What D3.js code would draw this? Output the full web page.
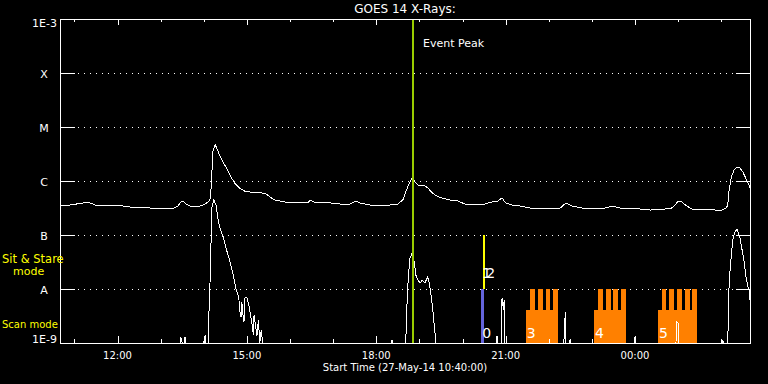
<!DOCTYPE html>
<meta charset="utf-8">
<style>
body{margin:0;background:#000;}
svg{display:block;}
text{font-family:'DejaVu Sans',sans-serif;fill:#fff;}
.yel{fill:#ffff00;}
</style>
<script src="https://d3js.org/d3.v7.min.js"></script>
<svg width="768" height="384"></svg>
<script>
// times are minutes after the start time 27-May-14 10:40:00, flux in W/m^2
var startTime = Date.UTC(2014, 4, 27, 10, 40);
var spanMinutes = 960;

var longChannel = [
  [0,3.44e-7],[14,3.59e-7],[32,3.92e-7],[42,3.92e-7],[49,3.59e-7],[70,3.44e-7],[79,3.59e-7],
  [97,3.30e-7],[111,3.30e-7],[125,3.16e-7],[139,3.16e-7],[146,3.16e-7],[156,3.03e-7],[164,3.44e-7],
  [168,4.08e-7],[171,4.26e-7],[175,3.75e-7],[181,3.44e-7],[188,3.44e-7],[195,3.44e-7],[202,3.75e-7],
  [206,4.08e-7],[209,4.64e-7],[210,6.8e-7],[213,3.75e-6],[216,4.64e-6],[218,4.08e-6],[223,2.78e-6],
  [230,1.90e-6],[237,1.24e-6],[243,9.2e-7],[250,7.4e-7],[257,6.5e-7],[264,6.25e-7],[275,6.25e-7],
  [281,6.0e-7],[287,5.74e-7],[292,5.06e-7],[299,4.45e-7],[306,4.26e-7],[320,3.92e-7],[334,3.92e-7],
  [345,3.92e-7],[348,4.45e-7],[353,4.08e-7],[362,3.92e-7],[376,3.92e-7],[390,3.75e-7],[404,3.75e-7],
  [412,4.26e-7],[417,3.92e-7],[431,3.59e-7],[445,3.59e-7],[459,3.59e-7],[470,3.75e-7],[477,4.45e-7],
  [481,6.25e-7],[486,9.2e-7],[490,1.14e-6],[495,9.2e-7],[499,8.1e-7],[506,8.4e-7],[512,7.4e-7],
  [518,6.0e-7],[524,5.3e-7],[531,4.85e-7],[543,4.45e-7],[554,4.26e-7],[563,3.75e-7],[577,3.59e-7],
  [591,3.75e-7],[601,4.08e-7],[609,4.26e-7],[615,4.85e-7],[620,3.92e-7],[629,3.59e-7],[640,3.44e-7],
  [654,3.16e-7],[675,3.16e-7],[696,3.16e-7],[704,3.92e-7],[712,3.44e-7],[726,3.16e-7],[744,3.16e-7],
  [758,3.16e-7],[769,3.44e-7],[779,3.16e-7],[793,3.16e-7],[807,3.03e-7],[821,2.90e-7],[842,3.03e-7],
  [851,3.16e-7],[856,3.59e-7],[860,4.26e-7],[865,4.08e-7],[872,3.44e-7],[879,3.03e-7],[897,3.03e-7],
  [911,2.90e-7],[921,2.90e-7],[927,3.16e-7],[929,3.59e-7],[931,6.8e-7],[934,1.19e-6],[938,1.60e-6],
  [942,1.82e-6],[946,1.74e-6],[950,1.47e-6],[954,1.14e-6],[959,8.1e-7],[960,7.4e-7]
];

var shortChannel = [
  [0,1e-9],[167,1e-9],[168,1.29e-9],[170,1e-9],[173,1e-9],[174,1.29e-9],[175,1e-9],
  [200,1e-9],[202,1.41e-9],[203,1e-9],[206,1e-9],[207,2.9e-9],[209,1.67e-8],[210,6e-8],
  [211,3.16e-7],[214,4.45e-7],[217,3.59e-7],[220,1.9e-7],[223,1.29e-7],[227,9.2e-8],[231,5.74e-8],
  [237,3.03e-8],[241,1.82e-8],[245,1.0e-8],[248,7.4e-9],[249,6.25e-9],[250,4.08e-9],[252,3.03e-9],
  [253,5.74e-9],[255,2.9e-9],[256,2.5e-9],[257,6.8e-9],[260,7.1e-9],[262,5.5e-9],[264,4.08e-9],
  [267,2.34e-9],[269,1.41e-9],[270,3.3e-9],[273,1.74e-9],[274,1.35e-9],[276,2.67e-9],[278,1e-9],
  [280,1.74e-9],[282,1e-9],[461,1e-9],[462,1.14e-9],[463,1e-9],[481,1e-9],[483,6.25e-9],
  [484,1.19e-8],[486,2.78e-8],[487,3.75e-8],[490,4.64e-8],[493,3.16e-8],[495,1.82e-8],[498,1.47e-8],
  [501,1.29e-8],[504,1.47e-8],[508,1.29e-8],[511,1.67e-8],[513,1.47e-8],[515,1e-8],[518,5.06e-9],
  [520,2.67e-9],[522,1.41e-9],[523,1e-9],[607,1e-9],[608,1.35e-9],[609,1e-9],[614,1e-9],
  [615,6.8e-9],[617,4.08e-9],[618,6.25e-9],[619,1e-9],[701,1e-9],[703,3.75e-9],[704,1e-9],
  [708,1e-9],[710,1.14e-9],[711,1e-9],[799,1e-9],[800,1.29e-9],[801,1e-9],[857,1e-9],
  [858,2.45e-9],[860,2.34e-9],[861,1e-9],[921,1e-9],[922,1.14e-9],[923,1e-9],[929,1e-9],
  [931,1.35e-8],[934,4.26e-8],[936,8.1e-8],[939,1.14e-7],[942,1.29e-7],[946,8.8e-8],[949,5.3e-8],
  [952,3.16e-8],[954,1.82e-8],[957,1.09e-8],[959,9.6e-9],[960,6.25e-9]
];

var levelNames = ["A", "B", "C", "M", "X"];
var levelValues = [1e-8, 1e-7, 1e-6, 1e-5, 1e-4];
var edgeLabels = ["1E-9", "1E-3"];

var eventPeak = 491;

// single sit & stare / scan runs
var stareIds = ["1", "2"];
var stareTime = [588.5, 591.7];
var scan0 = [586, 590];

// rastered scans: base block plus exposure teeth
var scanIds = ["3", "4", "5"];
var scanStart = [648, 743, 832];
var scanEnd = [693, 787.5, 886];
var scanTeeth = [
  [[654,660.5],[665,671.5],[675.7,682.1],[686,692.5]],
  [[748.5,755],[759.6,766],[769.8,776.3],[780.5,787.5]],
  [[837.5,843],[847.7,854],[858.4,865],[869.5,876],[879.7,886]]
];

var svg = d3.select("svg");
var L = 60, R = 750, T = 19, B = 343;

var toDate = function(m){ return new Date(startTime + m * 60000); };
var x = d3.scaleUtc().domain([toDate(0), toDate(spanMinutes)]).range([L, R]);
var y = d3.scaleLog().domain([1e-9, 1e-3]).range([B, T]).clamp(true);

svg.append("rect").attr("width", 768).attr("height", 384).attr("fill", "#000");

// dotted level lines with solid ticks at both ends
var grid = svg.append("g").attr("shape-rendering", "crispEdges");
levelValues.forEach(function(v){
  var yy = Math.round(y(v)) + 0.5;
  grid.append("line").attr("x1", L).attr("x2", R).attr("y1", yy).attr("y2", yy)
    .attr("stroke", "#fff").attr("stroke-dasharray", "1,5");
  grid.append("line").attr("x1", L).attr("x2", L + 15).attr("y1", yy).attr("y2", yy).attr("stroke", "#fff");
  grid.append("line").attr("x1", R - 14).attr("x2", R).attr("y1", yy).attr("y2", yy).attr("stroke", "#fff");
});

// scan markers
var marks = svg.append("g").attr("shape-rendering", "crispEdges");
marks.append("rect")
  .attr("x", x(toDate(scan0[0]))).attr("width", x(toDate(scan0[1])) - x(toDate(scan0[0])))
  .attr("y", y(1e-8)).attr("height", y(1e-9) - y(1e-8)).attr("fill", "#6464dc");
marks.append("rect")
  .attr("x", x(toDate(stareTime[0]))).attr("width", x(toDate(stareTime[1])) - x(toDate(stareTime[0])))
  .attr("y", y(1e-7)).attr("height", y(1e-8) - y(1e-7)).attr("fill", "#ffff00");
scanIds.forEach(function(id, i){
  var x0 = x(toDate(scanStart[i])), x1 = x(toDate(scanEnd[i]));
  marks.append("rect").attr("x", x0).attr("width", x1 - x0)
    .attr("y", y(4.08e-9)).attr("height", y(1e-9) - y(4.08e-9)).attr("fill", "#ff8000");
  scanTeeth[i].forEach(function(t){
    var a = x(toDate(t[0])), b = x(toDate(t[1]));
    marks.append("rect").attr("x", a).attr("width", b - a)
      .attr("y", y(1e-8)).attr("height", y(4.08e-9) - y(1e-8)).attr("fill", "#ff8000");
  });
});

// flux curves
var line = d3.line()
  .x(function(d){ return x(toDate(d[0])); })
  .y(function(d){ return y(d[1]); });
[longChannel, shortChannel].forEach(function(s){
  svg.append("path").datum(s).attr("d", line)
    .attr("fill", "none").attr("stroke", "#fff").attr("stroke-width", 1)
    .attr("shape-rendering", "crispEdges");
});

// event peak
var ex = Math.round(x(toDate(eventPeak)));
svg.append("rect").attr("x", ex - 1).attr("width", 2).attr("y", T).attr("height", B - T).attr("fill", "#99cc00");
svg.append("text").attr("x", ex + 10).attr("y", 47).style("font-size", "11px").text("Event Peak");

// scan labels (1 and 2 are drawn on top of each other in the original)
svg.append("text").attr("x", x(toDate(scan0[0])) + 1).attr("y", 338).style("font-size", "14px").text("0");
svg.append("text").attr("x", x(toDate(stareTime[1])) - 3).attr("y", 278)
  .style("font-size", "14px").style("letter-spacing", "-5px").text(stareIds.join(""));
scanIds.forEach(function(id, i){
  svg.append("text").attr("x", x(toDate(scanStart[i])) + 1).attr("y", 338).style("font-size", "14px").text(id);
});

// frame and time ticks
var frame = svg.append("g").attr("shape-rendering", "crispEdges").attr("stroke", "#fff").attr("fill", "none");
frame.append("rect").attr("x", L + 0.5).attr("y", T + 0.5).attr("width", R - L).attr("height", B - T);
var hours = x.ticks(d3.utcHour.every(1));
hours.forEach(function(h){
  var major = h.getUTCHours() % 3 === 0;
  var xx = Math.round(x(h)) + 0.5;
  frame.append("line").attr("x1", xx).attr("x2", xx).attr("y1", T).attr("y2", T + (major ? 6 : 3));
  frame.append("line").attr("x1", xx).attr("x2", xx).attr("y1", B).attr("y2", B - (major ? 7 : 4));
  if (major) {
    svg.append("text").attr("x", x(h)).attr("y", 359).attr("text-anchor", "middle")
      .style("font-size", "10px").text(d3.utcFormat("%H:%M")(h));
  }
});

// level labels
levelNames.forEach(function(n, i){
  svg.append("text").attr("x", 44).attr("y", y(levelValues[i]) + 5).attr("text-anchor", "middle")
    .style("font-size", "11px").text(n);
});
svg.append("text").attr("x", 57).attr("y", B).attr("text-anchor", "end").style("font-size", "11px").text(edgeLabels[0]);
svg.append("text").attr("x", 57).attr("y", T + 8).attr("text-anchor", "end").style("font-size", "11px").text(edgeLabels[1]);

svg.append("text").attr("x", (L + R) / 2).attr("y", 13).attr("text-anchor", "middle")
  .style("font-size", "12px").text("GOES 14 X-Rays:");
svg.append("text").attr("x", (L + R) / 2).attr("y", 371).attr("text-anchor", "middle")
  .style("font-size", "10px").text("Start Time (" + d3.utcFormat("%d-%b-%y %H:%M:%S")(toDate(0)) + ")");

svg.append("text").attr("class", "yel").attr("x", 2).attr("y", 263).style("font-size", "11.5px").text("Sit & Stare");
svg.append("text").attr("class", "yel").attr("x", 13).attr("y", 275).style("font-size", "11px").text("mode");
svg.append("text").attr("class", "yel").attr("x", 2).attr("y", 328).style("font-size", "10px").text("Scan mode");
</script>
